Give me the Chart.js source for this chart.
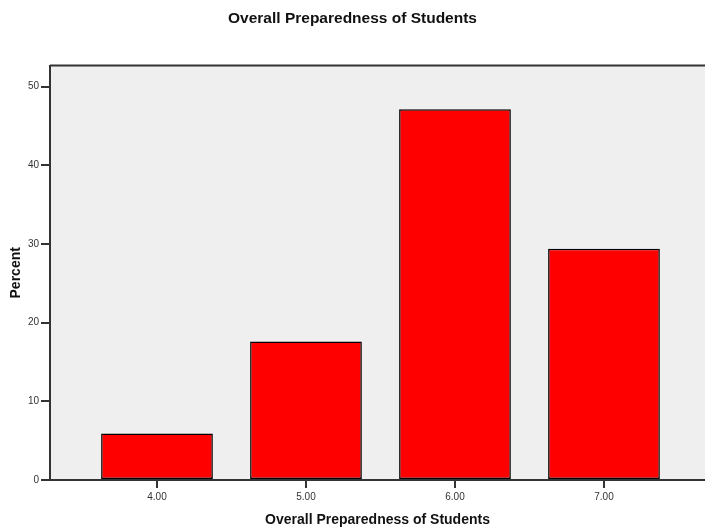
<!DOCTYPE html>
<html>
<head>
<meta charset="utf-8">
<script src="https://cdn.jsdelivr.net/npm/chart.js@4/dist/chart.umd.min.js"></script>
<style>
  html, body { margin: 0; padding: 0; background: #ffffff; }
  #wrap { width: 705px; height: 529px; }
</style>
</head>
<body>
<div id="wrap"><canvas id="c" width="705" height="529"></canvas></div>
<script>
const categories = [4, 5, 6, 7];
const categoryLabels = ['4.00', '5.00', '6.00', '7.00'];
const percentValues = [5.9, 17.6, 47.1, 29.4];
const yTicks = [0, 10, 20, 30, 40, 50];

const points = categories.map((c, i) => ({ x: c, y: percentValues[i] }));

const plotBg = {
  id: 'plotBg',
  beforeDraw(chart) {
    const { ctx, chartArea: a } = chart;
    ctx.save();
    ctx.fillStyle = '#efefef';
    ctx.fillRect(a.left, a.top, a.right - a.left, a.bottom - a.top);
    ctx.restore();
  },
  afterDraw(chart) {
    const { ctx, chartArea: a } = chart;
    ctx.save();
    ctx.strokeStyle = '#333333';
    ctx.lineWidth = 2;
    ctx.beginPath();
    ctx.moveTo(a.left, a.top);
    ctx.lineTo(a.right, a.top);
    ctx.stroke();
    ctx.restore();
  }
};

new Chart(document.getElementById('c'), {
  type: 'bar',
  data: {
    datasets: [{
      data: points,
      backgroundColor: '#ff0000',
      borderColor: '#000000',
      borderWidth: 1.5,
      borderSkipped: false,
      categoryPercentage: 1,
      barPercentage: 0.75
    }]
  },
  options: {
    responsive: false,
    animation: false,
    layout: { padding: { left: 0, right: 0, top: 0, bottom: 0 } },
    plugins: {
      legend: { display: false },
      tooltip: { enabled: false },
      title: {
        display: true,
        text: 'Overall Preparedness of Students',
        color: '#111111',
        font: { family: '"Liberation Sans Narrow", "Liberation Sans", Arial', size: 15.5, weight: 'bold' },
        padding: { top: 9, bottom: 38 }
      }
    },
    scales: {
      x: {
        type: 'linear',
        offset: false,
        min: 3.282,
        max: 7.678,
        afterBuildTicks(scale) { scale.ticks = categories.map(v => ({ value: v })); },
        afterFit(scale) { scale.height = 49; },
        ticks: {
          autoSkip: false,
          maxRotation: 0,
          padding: 3,
          color: '#333333',
          font: { family: '"Liberation Sans", Arial', size: 10 },
          callback: (v) => categoryLabels[categories.indexOf(v)] ?? ''
        },
        grid: { offset: false, drawOnChartArea: false, drawTicks: true, tickLength: 8, color: '#333333', lineWidth: 2 },
        border: { display: true, color: '#333333', width: 2 },
        title: {
          display: true,
          text: 'Overall Preparedness of Students',
          color: '#111111',
          font: { family: '"Liberation Sans Narrow", "Liberation Sans", Arial', size: 14, weight: 'bold' },
          padding: { top: 5, bottom: 0 }
        }
      },
      y: {
        min: 0,
        max: 52.66,
        afterBuildTicks(scale) { scale.ticks = yTicks.map(v => ({ value: v })); },
        afterFit(scale) { scale.width = 50; },
        ticks: {
          padding: 2,
          color: '#333333',
          font: { family: '"Liberation Sans", Arial', size: 10 }
        },
        grid: { drawOnChartArea: false, drawTicks: true, tickLength: 9, color: '#333333', lineWidth: 2 },
        border: { display: true, color: '#333333', width: 2 },
        title: {
          display: true,
          text: 'Percent',
          color: '#111111',
          font: { family: '"Liberation Sans Narrow", "Liberation Sans", Arial', size: 14, weight: 'bold' },
          padding: { top: 8, bottom: 0 }
        }
      }
    }
  },
  plugins: [plotBg]
});
</script>
</body>
</html>
